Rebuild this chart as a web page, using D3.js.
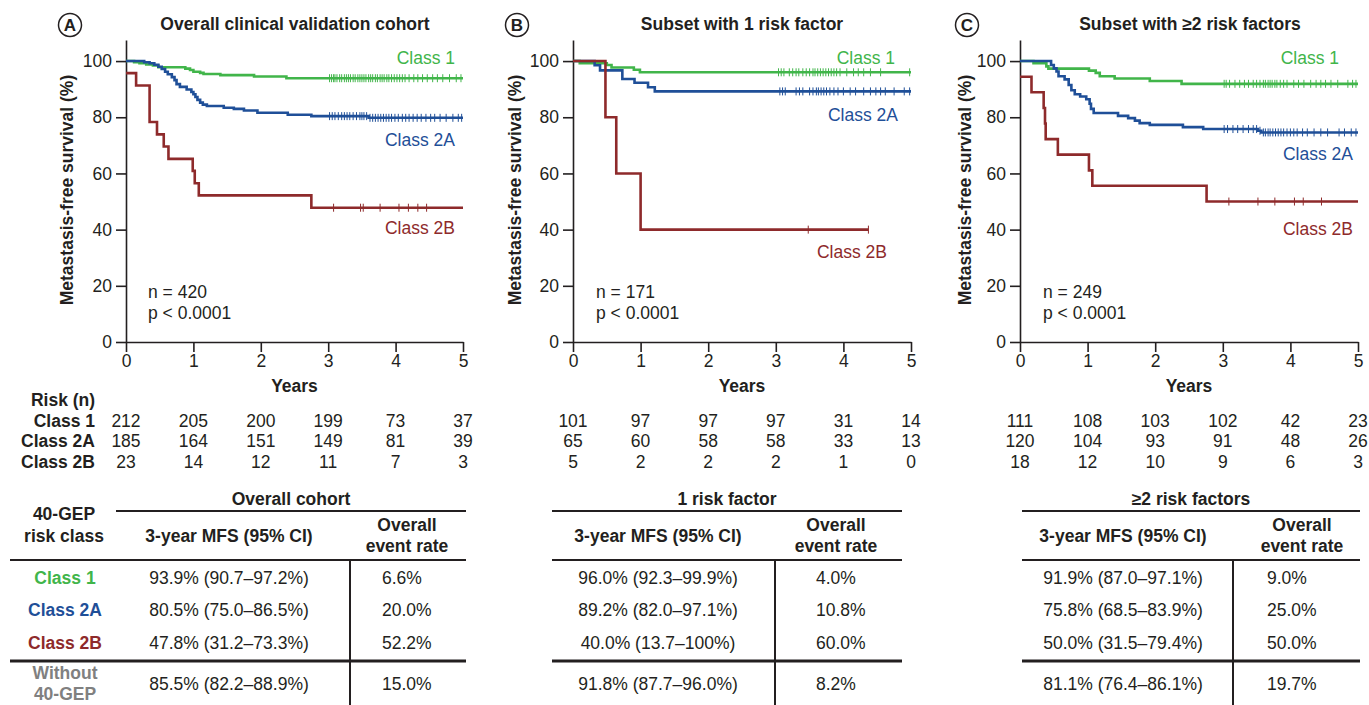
<!DOCTYPE html>
<html>
<head>
<meta charset="utf-8">
<script src="https://cdn.jsdelivr.net/npm/d3@7"></script>
<style>
  body { margin: 0; background: #fff; }
  svg { font-family: "Liberation Sans", Arial, Helvetica, sans-serif; }
</style>
</head>
<body>
<svg id="fig" width="1369" height="705"></svg>
<script>
// ---- data ----
const classNames = ["Class 1", "Class 2A", "Class 2B"]
const panelLetters = ["A", "B", "C"]
const panelTitles = ["Overall clinical validation cohort", "Subset with 1 risk factor", "Subset with \u22652 risk factors"]
const yTicks = [0, 20, 40, 60, 80, 100]
const xTicks = [0, 1, 2, 3, 4, 5]
const nLabels = ["n = 420", "n = 171", "n = 249"]
const pLabel = "p < 0.0001"

// survival steps: [years, survival % from that time on]
const survA1 = [[0,100],[0.12,99.6],[0.2,99.2],[0.3,98.8],[0.4,98.4],[0.48,97.8],[0.88,97.3],[0.95,96.8],[1.0,96.2],[1.1,95.8],[1.15,95.4],[1.4,95.0],[1.9,94.5],[2.38,93.9],[5,93.9]]
const survA2 = [[0,100],[0.27,99.6],[0.35,99.2],[0.42,98.7],[0.48,98.0],[0.53,97.2],[0.58,96.2],[0.62,95.3],[0.68,94.3],[0.72,93.2],[0.75,91.8],[0.8,90.8],[0.9,89.9],[0.97,89.0],[1.0,88.2],[1.03,87.2],[1.06,86.2],[1.1,85.2],[1.14,84.5],[1.2,84.0],[1.45,83.4],[1.6,83.0],[1.75,82.4],[1.95,81.6],[2.4,80.9],[2.75,80.4],[3.6,79.8],[5,79.8]]
const survA3 = [[0,95.7],[0.15,91.3],[0.35,78.3],[0.46,73.9],[0.56,69.6],[0.63,65.2],[0.99,60.9],[1.02,56.5],[1.08,52.2],[2.75,47.8],[5,47.8]]
const survB1 = [[0,100],[0.1,99.2],[0.5,98.6],[0.57,97.7],[0.9,96.9],[0.99,96.0],[5,96.0]]
const survB2 = [[0,100],[0.32,98.5],[0.4,96.7],[0.73,93.6],[0.91,92.3],[1.11,90.7],[1.21,89.2],[5,89.2]]
const survB3 = [[0,100],[0.48,80],[0.64,60],[1.0,40],[4.37,40]]
const survC1 = [[0,100],[0.2,99.2],[0.39,98.1],[0.42,97.3],[1.02,96.6],[1.12,95.8],[1.18,94.6],[1.4,93.8],[1.92,92.9],[2.39,91.9],[5,91.9]]
const survC2 = [[0,100],[0.46,98.6],[0.5,97.4],[0.54,96.3],[0.57,94.6],[0.66,93.5],[0.72,91.5],[0.76,89.6],[0.81,88.2],[0.89,87.4],[0.98,86.4],[1.03,84.8],[1.05,83.0],[1.09,81.5],[1.45,80.5],[1.6,79.7],[1.7,78.8],[1.77,77.9],[1.92,77.3],[2.41,76.5],[2.71,75.8],[3.52,75.2],[3.57,74.6],[5,74.6]]
const survC3 = [[0,94.4],[0.17,88.9],[0.35,83.3],[0.37,77.8],[0.38,72.2],[0.56,66.7],[1.02,61.1],[1.07,55.6],[2.76,50.0],[5,50.0]]

// censoring times (years)
const censA1 = [3.02,3.05,3.08,3.1,3.13,3.17,3.2,3.24,3.27,3.3,3.33,3.37,3.4,3.44,3.47,3.5,3.53,3.56,3.6,3.63,3.66,3.7,3.73,3.77,3.8,3.83,3.87,3.9,3.94,3.98,4.02,4.06,4.1,4.14,4.2,4.27,4.33,4.4,4.47,4.55,4.62,4.7,4.8,4.9,4.97]
const censA2 = [3.02,3.06,3.1,3.15,3.2,3.24,3.28,3.32,3.37,3.42,3.47,3.5,3.53,3.57,3.62,3.66,3.7,3.74,3.78,3.82,3.86,3.9,3.94,3.99,4.04,4.1,4.15,4.2,4.26,4.32,4.38,4.45,4.52,4.58,4.66,4.75,4.85,4.93,4.98]
const censA3 = [3.08,3.48,3.52,3.77,4.05,4.19,4.33,4.46]
const censB1 = [3.04,3.08,3.12,3.2,3.25,3.3,3.34,3.4,3.45,3.5,3.55,3.58,3.62,3.66,3.7,3.74,3.78,3.82,3.86,3.9,3.95,4.05,4.15,4.22,4.3,4.4,4.55,4.98]
const censB2 = [3.06,3.1,3.14,3.3,3.35,3.4,3.5,3.55,3.6,3.63,3.67,3.71,3.75,3.8,3.86,3.92,4.0,4.1,4.18,4.3,4.4,4.48,4.55,4.62,4.75,4.9,4.98]
const censB3 = [3.48,4.37]
const censC1 = [3.02,3.05,3.1,3.18,3.25,3.32,3.38,3.45,3.5,3.55,3.6,3.63,3.67,3.7,3.73,3.77,3.8,3.85,3.9,3.95,4.05,4.12,4.2,4.3,4.38,4.45,4.52,4.6,4.7,4.85,4.92,4.97]
const censC2 = [3.02,3.07,3.15,3.22,3.3,3.38,3.45,3.5,3.55,3.6,3.63,3.67,3.7,3.74,3.78,3.82,3.86,3.9,3.95,4.0,4.05,4.1,4.18,4.25,4.35,4.45,4.55,4.72,4.8,4.9,4.97]
const censC3 = [3.09,3.52,3.77,4.06,4.19,4.46]

// numbers at risk
const riskA = [[212,205,200,199,73,37],[185,164,151,149,81,39],[23,14,12,11,7,3]]
const riskB = [[101,97,97,97,31,14],[65,60,58,58,33,13],[5,2,2,2,1,0]]
const riskC = [[111,108,103,102,42,23],[120,104,93,91,48,26],[18,12,10,9,6,3]]

// tables
const tableHeaders = ["Overall cohort", "1 risk factor", "\u22652 risk factors"]
const mfsA = ["93.9% (90.7\u201397.2%)","80.5% (75.0\u201386.5%)","47.8% (31.2\u201373.3%)","85.5% (82.2\u201388.9%)"]
const mfsB = ["96.0% (92.3\u201399.9%)","89.2% (82.0\u201397.1%)","40.0% (13.7\u2013100%)","91.8% (87.7\u201396.0%)"]
const mfsC = ["91.9% (87.0\u201397.1%)","75.8% (68.5\u201383.9%)","50.0% (31.5\u201379.4%)","81.1% (76.4\u201386.1%)"]
const eventA = ["6.6%","20.0%","52.2%","15.0%"]
const eventB = ["4.0%","10.8%","60.0%","8.2%"]
const eventC = ["9.0%","25.0%","50.0%","19.7%"]

// ---- drawing ----
const COLORS = ["#41b54a", "#1f4f98", "#8e2a2b"]
const INK = "#231f20"
const FS = 17.5

const svg = d3.select("#fig")

const panels = [
  { x0: 126, x1: 463, surv: [survA1, survA2, survA3], cens: [censA1, censA2, censA3], risk: riskA,
    circle: 70, titleX: 295, yTitleX: 67, nX: 148,
    labels: [[455, 58], [455, 140], [455, 228]],
    tab: { hl: 116, full: 10, r: 466, vx: 350, mfsX: 229, evX: 382, evHead: 407 },
    mfs: mfsA, ev: eventA },
  { x0: 573, x1: 911, surv: [survB1, survB2, survB3], cens: [censB1, censB2, censB3], risk: riskB,
    circle: 517, titleX: 742, yTitleX: 515, nX: 596,
    labels: [[895, 58], [898, 115], [887, 252]],
    tab: { hl: 552, full: 552, r: 902, vx: 775, mfsX: 658, evX: 816, evHead: 836 },
    mfs: mfsB, ev: eventB },
  { x0: 1020, x1: 1358, surv: [survC1, survC2, survC3], cens: [censC1, censC2, censC3], risk: riskC,
    circle: 967, titleX: 1190, yTitleX: 965, nX: 1043,
    labels: [[1339, 58], [1353, 154], [1353, 229]],
    tab: { hl: 1022, full: 1022, r: 1360, vx: 1233, mfsX: 1123, evX: 1267, evHead: 1302 },
    mfs: mfsC, ev: eventC }
]

const Y_BOTTOM = 342, Y_TOP = 40
const riskRowsY = [421, 441, 462]
const tableRowsY = [578, 610, 643, 684]

function valueAt(steps, t) {
  let v = steps[0][1]
  steps.forEach(d => { if (d[0] <= t) v = d[1] })
  return v
}

panels.forEach((p, pi) => {
  const x = d3.scaleLinear().domain([0, 5]).range([p.x0, p.x1])
  const y = d3.scaleLinear().domain([0, 107.5]).range([Y_BOTTOM, Y_TOP])
  const g = svg.append("g")

  // panel letter in a circle
  g.append("circle").attr("cx", p.circle).attr("cy", 25).attr("r", 11.5)
    .attr("fill", "none").attr("stroke", INK).attr("stroke-width", 1.5)
  g.append("text").attr("x", p.circle).attr("y", 25).attr("dy", "0.36em")
    .attr("text-anchor", "middle").attr("font-weight", "bold").attr("font-size", 17)
    .attr("fill", INK).text(panelLetters[pi])

  g.append("text").attr("x", p.titleX).attr("y", 24).attr("dy", "0.36em")
    .attr("text-anchor", "middle").attr("font-weight", "bold").attr("font-size", FS)
    .attr("fill", INK).text(panelTitles[pi])

  // axes
  const yAxis = d3.axisLeft(y).tickValues(yTicks).tickSize(10).tickPadding(4).tickSizeOuter(0)
  const yg = g.append("g").attr("transform", "translate(" + p.x0 + ",0)").call(yAxis)
  const xAxis = d3.axisBottom(x).tickValues(xTicks).tickFormat(d3.format("d"))
    .tickSize(10).tickPadding(3).tickSizeOuter(0)
  const xg = g.append("g").attr("transform", "translate(0," + Y_BOTTOM + ")").call(xAxis)
  ;[yg, xg].forEach(a => {
    a.attr("font-family", null).attr("font-size", FS)
    a.selectAll("path, line").attr("stroke", INK).attr("stroke-width", 1.6)
    a.selectAll("text").attr("fill", INK)
  })

  g.append("text")
    .attr("transform", "translate(" + p.yTitleX + "," + 190 + ") rotate(-90)")
    .attr("dy", "0.36em").attr("text-anchor", "middle")
    .attr("font-weight", "bold").attr("font-size", FS).attr("fill", INK)
    .text("Metastasis-free survival (%)")

  g.append("text").attr("x", (p.x0 + p.x1) / 2).attr("y", 386).attr("dy", "0.36em")
    .attr("text-anchor", "middle").attr("font-weight", "bold").attr("font-size", FS)
    .attr("fill", INK).text("Years")

  // curves
  const line = d3.line().x(d => x(d[0])).y(d => y(d[1])).curve(d3.curveStepAfter)
  p.surv.forEach((s, ci) => {
    g.append("path").attr("d", line(s)).attr("fill", "none")
      .attr("stroke", COLORS[ci]).attr("stroke-width", 2.6)
    g.selectAll(null).data(p.cens[ci]).enter().append("line")
      .attr("x1", t => x(t)).attr("x2", t => x(t))
      .attr("y1", t => y(valueAt(s, t)) - 4).attr("y2", t => y(valueAt(s, t)) + 4)
      .attr("stroke", COLORS[ci]).attr("stroke-width", 1)
    g.append("text").attr("x", p.labels[ci][0]).attr("y", p.labels[ci][1]).attr("dy", "0.36em")
      .attr("text-anchor", "end").attr("font-size", FS).attr("fill", COLORS[ci])
      .text(classNames[ci])
  })

  g.append("text").attr("x", p.nX).attr("y", 292).attr("dy", "0.36em")
    .attr("font-size", FS).attr("fill", INK).text(nLabels[pi])
  g.append("text").attr("x", p.nX).attr("y", 313).attr("dy", "0.36em")
    .attr("font-size", FS).attr("fill", INK).text(pLabel)

  // numbers at risk
  p.risk.forEach((row, ri) => {
    g.selectAll(null).data(row).enter().append("text")
      .attr("x", (d, i) => x(xTicks[i])).attr("y", riskRowsY[ri]).attr("dy", "0.36em")
      .attr("text-anchor", "middle").attr("font-size", FS).attr("fill", INK)
      .text(d => d)
  })
  if (pi === 0) {
    g.append("text").attr("x", 63).attr("y", 400).attr("dy", "0.36em")
      .attr("text-anchor", "middle").attr("font-weight", "bold").attr("font-size", FS)
      .attr("fill", INK).text("Risk (n)")
    classNames.forEach((c, ri) => {
      g.append("text").attr("x", 95).attr("y", riskRowsY[ri]).attr("dy", "0.36em")
        .attr("text-anchor", "end").attr("font-weight", "bold").attr("font-size", FS)
        .attr("fill", INK).text(c)
    })
  }

  // summary table
  const t = p.tab
  const bold = (sel) => sel.attr("font-weight", "bold").attr("font-size", FS).attr("fill", INK)
  bold(g.append("text").attr("x", (t.hl + t.r) / 2).attr("y", 499).attr("dy", "0.36em")
    .attr("text-anchor", "middle")).text(tableHeaders[pi])
  bold(g.append("text").attr("x", t.mfsX).attr("y", 536).attr("dy", "0.36em")
    .attr("text-anchor", "middle")).text("3-year MFS (95% CI)")
  bold(g.append("text").attr("x", t.evHead).attr("y", 525).attr("dy", "0.36em")
    .attr("text-anchor", "middle")).text("Overall")
  bold(g.append("text").attr("x", t.evHead).attr("y", 546).attr("dy", "0.36em")
    .attr("text-anchor", "middle")).text("event rate")

  g.append("line").attr("x1", t.hl).attr("x2", t.r).attr("y1", 511).attr("y2", 511)
    .attr("stroke", INK).attr("stroke-width", 2)
  g.append("line").attr("x1", t.full).attr("x2", t.r).attr("y1", 560).attr("y2", 560)
    .attr("stroke", INK).attr("stroke-width", 2)
  g.append("line").attr("x1", t.full).attr("x2", t.r).attr("y1", 661).attr("y2", 661)
    .attr("stroke", INK).attr("stroke-width", 3)
  g.append("line").attr("x1", t.vx).attr("x2", t.vx).attr("y1", 560).attr("y2", 705)
    .attr("stroke", INK).attr("stroke-width", 2)

  p.mfs.forEach((m, ri) => {
    g.append("text").attr("x", t.mfsX).attr("y", tableRowsY[ri]).attr("dy", "0.36em")
      .attr("text-anchor", "middle").attr("font-size", FS).attr("fill", INK).text(m)
    g.append("text").attr("x", t.evX).attr("y", tableRowsY[ri]).attr("dy", "0.36em")
      .attr("font-size", FS).attr("fill", INK).text(p.ev[ri])
  })

  if (pi === 0) {
    bold(g.append("text").attr("x", 64).attr("y", 514).attr("dy", "0.36em")
      .attr("text-anchor", "middle")).text("40-GEP")
    bold(g.append("text").attr("x", 64).attr("y", 536).attr("dy", "0.36em")
      .attr("text-anchor", "middle")).text("risk class")
    classNames.forEach((c, ri) => {
      g.append("text").attr("x", 65).attr("y", tableRowsY[ri]).attr("dy", "0.36em")
        .attr("text-anchor", "middle").attr("font-weight", "bold").attr("font-size", FS)
        .attr("fill", COLORS[ri]).text(c)
    })
    ;["Without", "40-GEP"].forEach((w, i) => {
      g.append("text").attr("x", 65).attr("y", 673 + i * 21).attr("dy", "0.36em")
        .attr("text-anchor", "middle").attr("font-weight", "bold").attr("font-size", FS)
        .attr("fill", "#808080").text(w)
    })
  }
})
</script>
</body>
</html>
